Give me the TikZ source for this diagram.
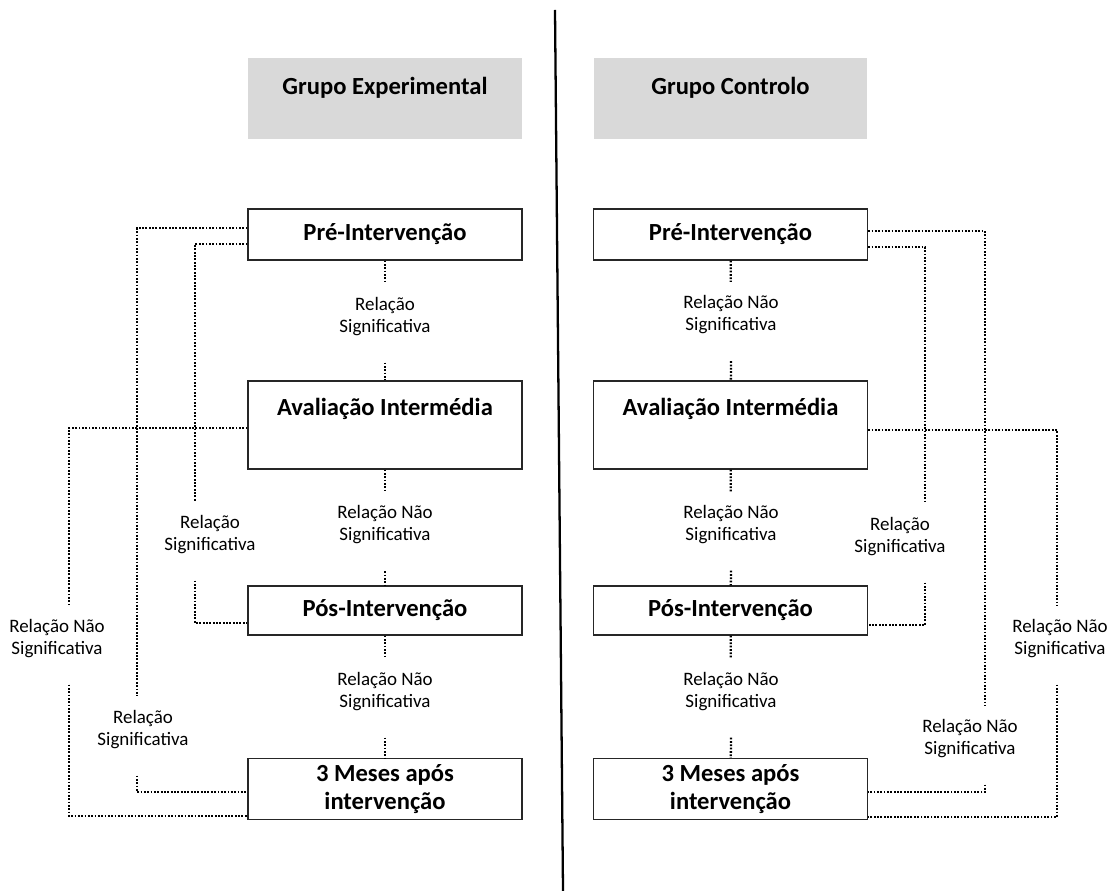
\documentclass[tikz,border=0pt]{standalone}
\usepackage{fontspec}
\setmainfont{Carlito}
\usepackage{tikz}
\usetikzlibrary{positioning,calc}
\definecolor{softgray}{RGB}{217,217,217}
\tikzset{box/.style={draw=black!85, line width=0.8pt, fill=white, minimum width=5.48cm, align=center, font=\fontsize{14}{16}\selectfont\bfseries}, hdr/.style={fill=softgray, minimum width=5.48cm, text height=0.74cm, text depth=0.88cm, inner ysep=0pt, font=\fontsize{14}{16}\selectfont\bfseries}, lbl/.style={align=center, inner sep=0pt, outer ysep=0.28cm, font=\fontsize{10.8}{12.5}\selectfont}, rel/.style={line width=1.3pt, dash pattern=on 1pt off 0.9pt, black}, divider/.style={line width=1.3pt}}

\begin{document}
\begin{tikzpicture}[x=0.02cm,y=-0.02cm]
\useasboundingbox (0,0) rectangle (1111,891);
% headers and divider
\node[hdr] (hdrE) at (385,98.5) {Grupo Experimental};
\node[hdr] (hdrC) at (730.5,98.5) {Grupo Controlo};
\coordinate (divtop) at (555,10); \coordinate (divbot) at (563,891);
\draw[divider] (divtop)--(divbot);
% experimental group
\node[box,minimum height=1.02cm] (preE) at (385,234.5) {Pré-Intervenção};
\node[box,text height=0.68cm,text depth=1.08cm,inner ysep=0pt] (avE) at (385,425) {Avaliação Intermédia};
\node[box,minimum height=0.98cm] (posE) at (385,610.5) {Pós-Intervenção};
\node[box,minimum height=1.16cm] (mesE) at (385,789) {3 Meses após\\intervenção};
\node[lbl] (l1E) at (385,316.5) {Relação\\Significativa};
\node[lbl] (l2E) at (385,525) {Relação Não\\Significativa};
\node[lbl] (l3E) at (385,691.5) {Relação Não\\Significativa};
\draw[rel] (preE)--(l1E); \draw[rel] ($(l1E.south)+(0,13)$)--(avE);
\draw[rel] (avE)--(l2E); \draw[rel] ($(l2E.south)+(0,13)$)--(posE);
\draw[rel] (posE)--(l3E); \draw[rel] ($(l3E.south)+(0,13)$)--(mesE);
% control group
\node[box,minimum height=1.02cm] (preC) at (730.5,234.5) {Pré-Intervenção};
\node[box,text height=0.68cm,text depth=1.08cm,inner ysep=0pt] (avC) at (730.5,425) {Avaliação Intermédia};
\node[box,minimum height=0.98cm] (posC) at (730.5,610.5) {Pós-Intervenção};
\node[box,minimum height=1.16cm] (mesC) at (730.5,789) {3 Meses após\\intervenção};
\node[lbl] (l1C) at (731,315) {Relação Não\\Significativa};
\node[lbl] (l2C) at (731,524.5) {Relação Não\\Significativa};
\node[lbl] (l3C) at (731,691.5) {Relação Não\\Significativa};
\draw[rel] (preC)--(l1C); \draw[rel] ($(l1C.south)+(0,13)$)--(avC);
\draw[rel] (avC)--(l2C); \draw[rel] ($(l2C.south)+(0,13)$)--(posC);
\draw[rel] (posC)--(l3C); \draw[rel] ($(l3C.south)+(0,13)$)--(mesC);
% side relations, experimental
\coordinate (colA) at (137,0); \coordinate (colB) at (195,0); \coordinate (colC) at (69,0);
\node[lbl] (sA) at (143,729.5) {Relação\\Significativa};
\node[lbl] (sB) at (210,534.5) {Relação\\Significativa};
\node[lbl] (sC) at (57,638.5) {Relação Não\\Significativa};
\draw[rel] ($(preE.west)+(0,-6.5)$) -| (colA |- sA.north);
\draw[rel] ($(sA.south -| colA)+(0,13)$) |- ($(mesE.west)+(0,3)$);
\draw[rel] ($(preE.west)+(0,9.5)$) -| (colB |- sB.north);
\draw[rel] ($(sB.south -| colB)+(0,13)$) |- ($(posE.west)+(0,12.5)$);
\draw[rel] ($(avE.west)+(0,3)$) -| (colC |- sC.north);
\draw[rel] ($(sC.south -| colC)+(0,13)$) |- ($(mesE.west)+(0,27)$);
% side relations, control
\coordinate (colD) at (985,0); \coordinate (colE) at (925,0); \coordinate (colF) at (1057,0);
\node[lbl] (sD) at (970,738.5) {Relação Não\\Significativa};
\node[lbl] (sE) at (900,536.5) {Relação\\Significativa};
\node[lbl] (sF) at (1060,638.5) {Relação Não\\Significativa};
\draw[rel] ($(preC.east)+(0,-3.5)$) -| (colD |- sD.north);
\draw[rel] ($(sD.south -| colD)+(0,13)$) |- ($(mesC.east)+(0,3)$);
\draw[rel] ($(preC.east)+(0,12.5)$) -| (colE |- sE.north);
\draw[rel] ($(sE.south -| colE)+(0,13)$) |- ($(posC.east)+(0,14.5)$);
\draw[rel] ($(avC.east)+(0,5)$) -| (colF |- sF.north);
\draw[rel] ($(sF.south -| colF)+(0,13)$) |- ($(mesC.east)+(0,28)$);
\end{tikzpicture}
\end{document}
